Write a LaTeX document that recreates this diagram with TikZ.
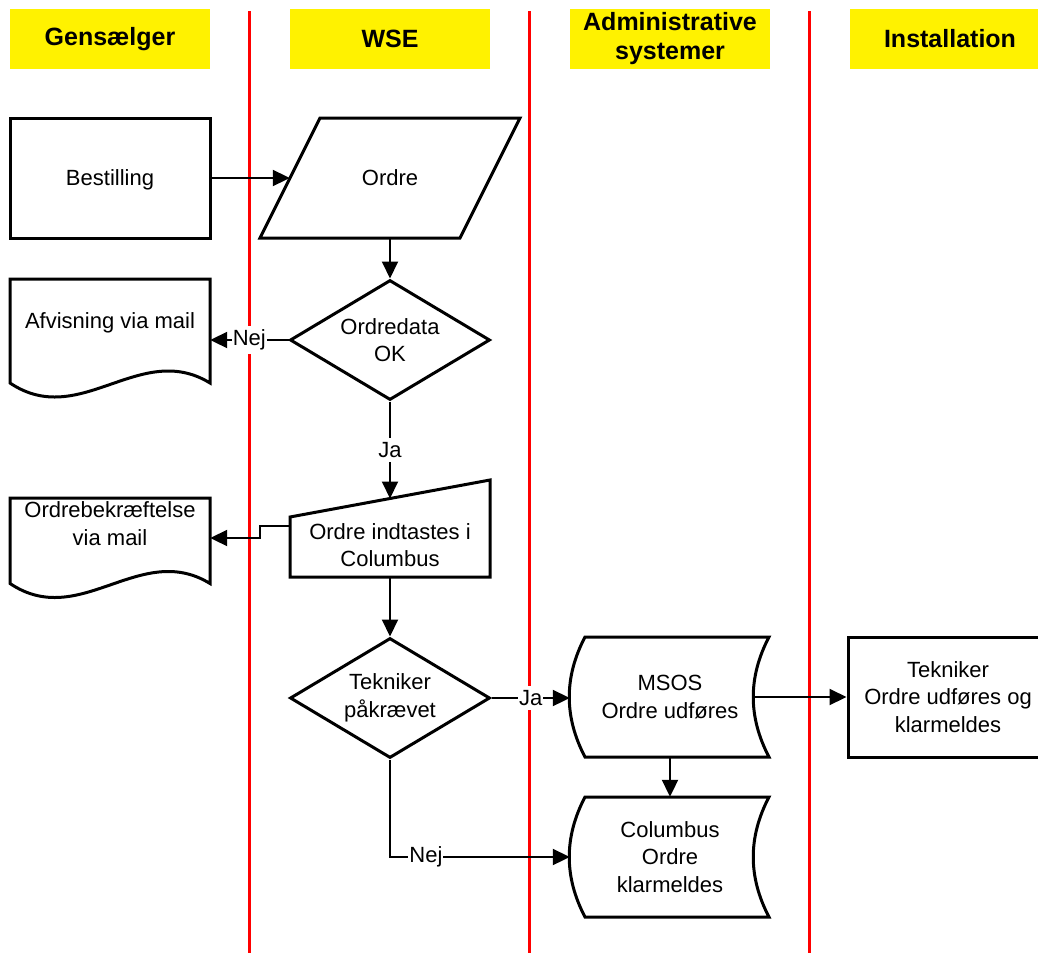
\documentclass[tikz,border=0pt]{standalone}
\usepackage{fontspec}
\setmainfont{Liberation Sans}
\usetikzlibrary{shapes.geometric, arrows.meta}
\tikzstyle{lane} = [rectangle, minimum width=200pt, minimum height=60pt, inner sep=1pt, text centered, align=center, fill=yellow, font=\fontsize{25}{29}\selectfont\bfseries]
\tikzstyle{process} = [rectangle, draw, line width=3pt, minimum width=200pt, minimum height=120pt, text centered, align=center]
\tikzstyle{decision} = [diamond, draw, line width=3pt, aspect=1.667, minimum width=200pt, minimum height=120pt, inner sep=0pt, text centered, align=center]
\tikzstyle{plain} = [rectangle, minimum width=200pt, text centered, align=center]
\tikzstyle{outline} = [line width=3pt]
\tikzstyle{arrow} = [line width=2pt, -{Triangle[length=17pt,width=16pt]}]
\tikzstyle{answer} = [fill=white, inner xsep=1pt, inner ysep=4pt]
\tikzstyle{divider} = [red, line width=3pt]
\begin{document}
\begin{tikzpicture}[x=1pt, y=-1pt, font=\fontsize{22}{27.5}\selectfont]
                 \useasboundingbox (0,0) rectangle (1038,953);
                 \clip (0,0) rectangle (1038,953);
                 % swimlane dividers
                 \foreach \x in {249,529,809}
                   \draw [divider] (\x,11) -- (\x,953);
                 % lane headers
                 \node [lane] at (110,39) (hgen) {Gensælger};
                 \node [lane] at (390,39) (hwse) {WSE};
                 \node [lane] at (670,39) (hadm) {Administrative\\systemer};
                 \node [lane] at (950,39) (hinst) {Installation};
                 % steps
                 \node [process, text depth=0pt] at (110,178) (bestil) {Bestilling};
                 \node [plain, minimum height=120pt] at (390,178) (ordre) {Ordre};
                 \node [decision] at (390,340) (ordreok) {Ordredata\\OK};
                 \node [plain] at (110,323) (afvis) {Afvisning via mail};
                 \node [plain, minimum height=64pt] at (390,545) (indtast) {Ordre indtastes i\\Columbus};
                 \node [plain] at (110,523.5) (bekraeft) {Ordrebekræftelse\\via mail};
                 \node [decision] at (390,698) (tekpaa) {Tekniker\\påkrævet};
                 \node [plain, minimum height=120pt] at (670,697) (msos) {MSOS\\Ordre udføres};
                 \node [plain, minimum height=120pt] at (670,857) (klarmeld) {Columbus\\Ordre\\klarmeldes};
                 \node [process] at (948,697) (tekniker) {Tekniker\\Ordre udføres og\\klarmeldes};
                 % outlines of the data, documents, manual input and stored data
                 \draw [outline, shift={(ordre.center)}] (-70,-60) -- (130,-60) -- (70,60) -- (-130,60) -- cycle;
                 \draw [outline, shift={(afvis.center)}] (-100,60) -- (-100,-44) -- (100,-44) -- (100,60) .. controls (30,17) and (-30,107) .. (-100,60) -- cycle;
                 \draw [outline, shift={(bekraeft.center)}] (-100,60) -- (-100,-25.5) -- (100,-25.5) -- (100,60) .. controls (30,17) and (-30,107) .. (-100,60) -- cycle;
                 \draw [outline, shift={(indtast.center)}] (-100,-28) -- (100,-65) -- (100,32) -- (-100,32) -- cycle;
                 \draw [outline, shift={(msos.center)}] (-85,-60) -- (99,-60) .. controls (78,-20) and (78,20) .. (99,60) -- (-85,60) .. controls (-106,20) and (-106,-20) .. (-85,-60) -- cycle;
                 \draw [outline, shift={(klarmeld.center)}] (-85,-60) -- (99,-60) .. controls (78,-20) and (78,20) .. (99,60) -- (-85,60) .. controls (-106,20) and (-106,-20) .. (-85,-60) -- cycle;
                 % connectors
                 \draw [arrow] (bestil.east) -- (ordre.west);
                 \draw [arrow] (ordre.south) -- (ordreok.north);
                 \draw [arrow] (ordreok.west) -- node[answer] {Nej} (ordreok.west -| afvis.east);
                 \draw [arrow] (ordreok.south) -- node[answer] {Ja} ([yshift=46.5pt]indtast.center);
                 \draw [arrow] ([yshift=19pt]indtast.west) -- ++(-30,0) |- ([yshift=-14.5pt]bekraeft.east);
                 \draw [arrow] (indtast.south) -- (tekpaa.north);
                 \draw [arrow] (tekpaa.east) -- node[answer] {Ja} (tekpaa.east -| msos.west);
                 \draw [arrow] ([xshift=-17pt]msos.east) -- (tekniker.west);
                 \draw [arrow] (msos.south) -- (klarmeld.north);
                 \draw [arrow] (tekpaa.south) |- node[answer, pos=0.6] {Nej} (klarmeld.west);
                 \end{tikzpicture}
\end{document}
